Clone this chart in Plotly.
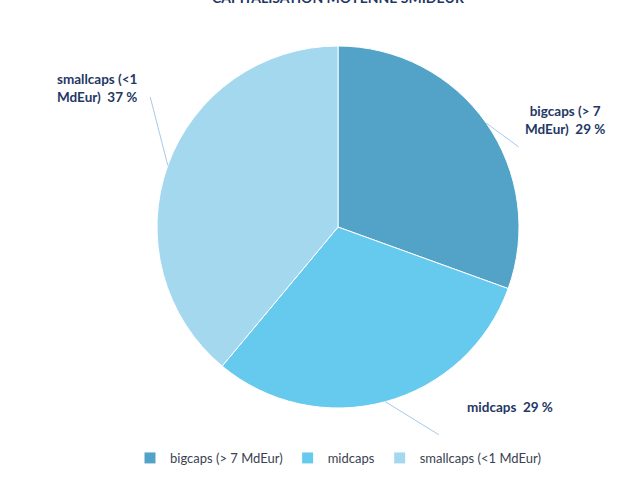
import math
import plotly.graph_objects as go

categories = ["bigcaps (> 7 MdEur)", "midcaps", "smallcaps (<1 MdEur)"]
label_texts = ["bigcaps (> 7<br>MdEur)  29 %", "midcaps  29 %", "smallcaps (<1<br>MdEur)  37 %"]
values = [29, 29, 37]
colors = ["#52a3c7", "#66c9ee", "#a4d8ee"]
title_text = "CAPITALISATION MOYENNE SMIDEUR"

W, H = 631, 477
T, B = 46, 69
ph = H - T - B
dx0, dx1 = 157 / W, 519 / W


def px(x):
    return x / W


def py(y):
    return 1 - (y - T) / ph


fig = go.Figure(go.Pie(
    labels=categories, values=values, sort=False, direction="clockwise",
    marker=dict(colors=colors, line=dict(color="white", width=1)),
    textinfo="none", domain=dict(x=[dx0, dx1], y=[0, 1]),
))

# leader lines from the slice mid-angle on the pie edge
line_offsets = [(34, 25), (55, 34), (-18, -70)]
# label placement (pixel x, pixel y, xanchor, align)
label_pos = [(565, 101, "center", "center"), (510, 397, "center", "center"), (55, 69, "left", "left")]
total = sum(values)
cum = 0
for v, txt, (ax, ay), (lx, ly, xa, al) in zip(values, label_texts, line_offsets, label_pos):
    mid = (cum + v / 2) / total * 2 * math.pi
    cum += v
    tx = dx0 + (dx1 - dx0) * (0.5 + 0.5 * math.sin(mid))
    ty = 0.5 + 0.5 * math.cos(mid)
    fig.add_annotation(
        x=tx, y=ty, xref="paper", yref="paper", text="", showarrow=True,
        arrowhead=0, arrowwidth=1, arrowcolor="#a9c9e8", ax=ax, ay=ay,
    )
    fig.add_annotation(
        x=px(lx), y=py(ly), xref="paper", yref="paper", text="<b>" + txt + "</b>",
        showarrow=False, xanchor=xa, yanchor="top", align=al,
        font=dict(family="Lato", size=13.5, color="#1f3864"),
    )

if len(line_offsets) == 3:
    pass

fig.add_annotation(
    x=(dx0 + dx1) / 2, y=1 + (T + 2) / ph, xref="paper", yref="paper", text="<b>" + title_text + "</b>",
    showarrow=False, yanchor="middle", font=dict(family="Lato", size=14, color="#1f3864"),
)

fig.update_layout(
    width=W, height=H, margin=dict(l=0, r=0, t=T, b=B, autoexpand=False),
    paper_bgcolor="white", plot_bgcolor="white",
    showlegend=True,
    legend=dict(orientation="h", xref="container", yref="container",
                x=338 / W, xanchor="center", y=1 - 458 / H, yanchor="middle",
                itemwidth=30,
                font=dict(family="Lato", size=13, color="#3a4250"), traceorder="normal"),
)
fig.write_html("out.html", config={"displayModeBar": False},
               post_script="document.body.style.margin='0';")
